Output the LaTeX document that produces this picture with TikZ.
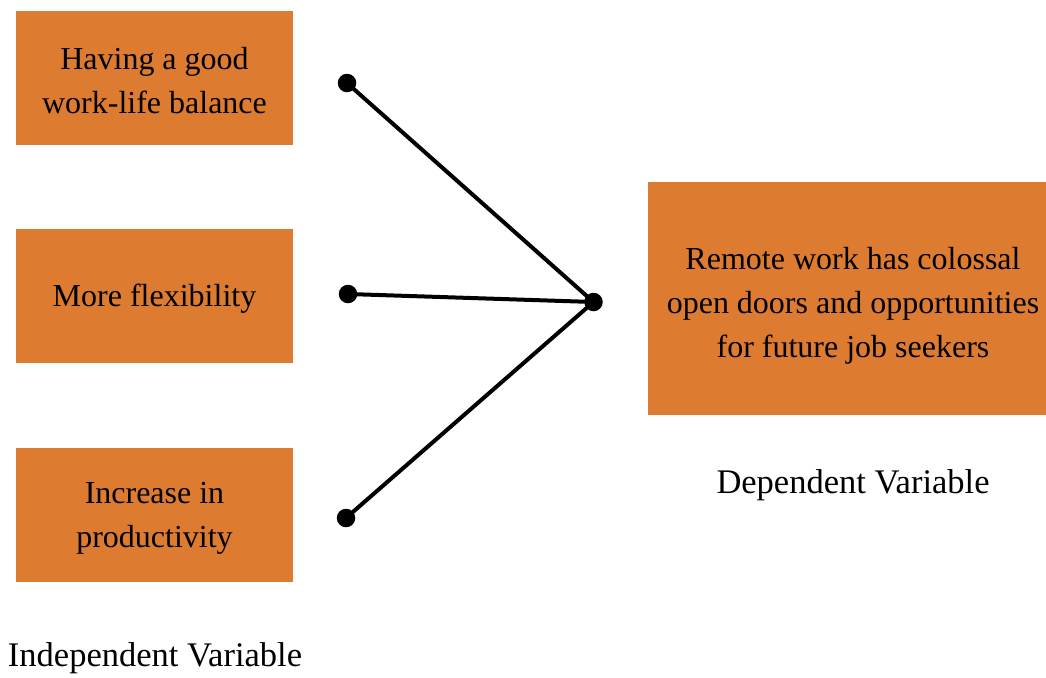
\documentclass[tikz,border=0pt]{standalone}
\usepackage{fontspec}
\setmainfont{Liberation Serif}
\definecolor{boxorange}{HTML}{DD7B30}
\begin{document}
\begin{tikzpicture}[x=1pt,y=-1pt,
  varbox/.style={fill=boxorange, draw=none, inner sep=0pt},
  boxtext/.style={inner sep=0pt, align=center, font=\fontsize{32}{44}\selectfont},
  dotnode/.style={circle, fill=black, inner sep=0pt, minimum size=18.5pt},
  link/.style={line width=4pt, black},
  caption/.style={font=\fontsize{34.5}{40}\selectfont, inner sep=0pt}]
\useasboundingbox (0,0) rectangle (1046,677);
\node[varbox, minimum width=277pt, minimum height=134pt] (a) at (154.5,78) {};
\node[varbox, minimum width=277pt, minimum height=134pt] (b) at (154.5,296) {};
\node[varbox, minimum width=277pt, minimum height=134pt] (c) at (154.5,515) {};
\node[varbox, minimum width=410pt, minimum height=233pt] (r) at (853,298.5) {};
\node[boxtext] (at) at ([yshift=-3pt]a.center) {Having a good\\work-life balance};
\node[boxtext] (bt) at ([yshift=-3pt]b.center) {More flexibility};
\node[boxtext] (ct) at ([yshift=-3.5pt]c.center) {Increase in\\productivity};
\node[boxtext] (rt) at ([yshift=-7pt]r.center) {Remote work has colossal\\open doors and opportunities\\for future job seekers};
\node[dotnode] (d1) at (347,83) {};
\node[dotnode] (d2) at (348,294) {};
\node[dotnode] (d3) at (346,518) {};
\node[dotnode] (dr) at (593.5,302) {};
\draw[link] (d1.center) -- (dr.center);
\draw[link] (d2.center) -- (dr.center);
\draw[link] (d3.center) -- (dr.center);
\node[caption] (iv) at (155,658) {Independent Variable};
\node[caption] (dv) at (853,485) {Dependent Variable};
\end{tikzpicture}
\end{document}
